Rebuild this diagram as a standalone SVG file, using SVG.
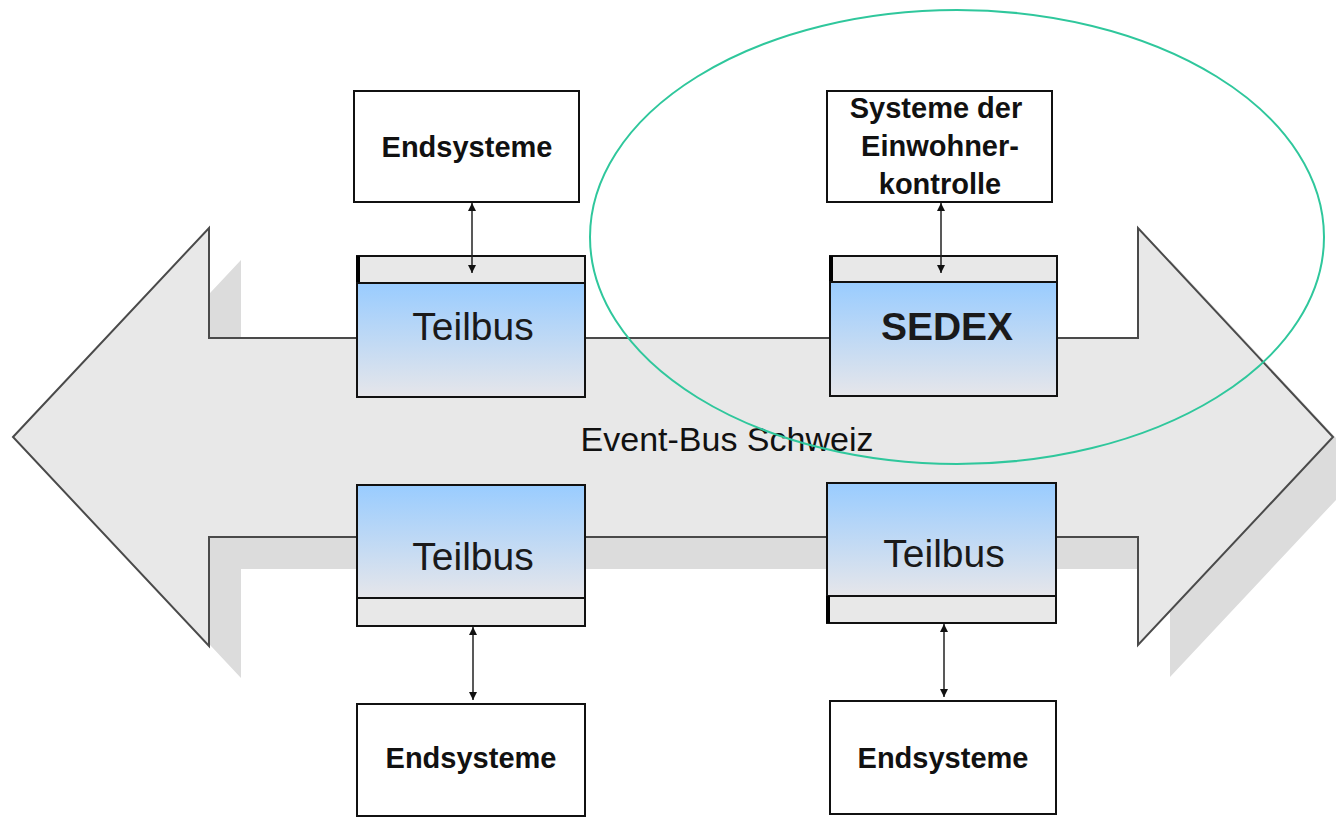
<svg xmlns="http://www.w3.org/2000/svg" width="1336" height="818" viewBox="0 0 1336 818">
<style>
.box{fill:#ffffff;stroke:#111;stroke-width:2}
.hdr{fill:#e8e8e8;stroke:#111;stroke-width:2}
.body{fill:url(#blue);stroke:#111;stroke-width:2}
.thick{fill:#000}
.lbl{font-family:"Liberation Sans",Arial,sans-serif;font-weight:bold;font-size:29px;fill:#111;text-anchor:middle}
.bus{font-family:"Liberation Sans",Arial,sans-serif;font-size:39px;fill:#1a1a1a;text-anchor:middle}
.conn{stroke:#222;stroke-width:1.5;fill:none;marker-start:url(#ah);marker-end:url(#ah)}
</style>
<defs>
<linearGradient id="blue" x1="0" y1="0" x2="0" y2="1">
<stop offset="0" stop-color="#99ccff"/>
<stop offset="1" stop-color="#e6e6ea"/>
</linearGradient>
<marker id="ah" viewBox="0 0 10 10" refX="10" refY="5" markerWidth="8" markerHeight="8" markerUnits="userSpaceOnUse" orient="auto-start-reverse">
<path d="M0,0 L10,5 L0,10 z" fill="#111"/>
</marker>
</defs>
<rect width="1336" height="818" fill="#ffffff"/>
<g id="bus">
<polygon points="45,469 241,260 241,370 1170,370 1170,260 1365,469 1170,677 1170,569 241,569 241,678" fill="#dcdcdc"/>
<polygon points="13,437 209,228 209,338 1138,338 1138,228 1333,437 1138,645 1138,537 209,537 209,646" fill="#e8e8e8" stroke="#4a4a4a" stroke-width="2" stroke-linejoin="miter"/>
<text x="727" y="451" font-family="'Liberation Sans',Arial,sans-serif" font-size="34" fill="#111" text-anchor="middle">Event-Bus Schweiz</text>
</g>
<g id="end-tl">
<rect class="box" x="354" y="91" width="225" height="111"/>
<text class="lbl" x="467" y="157">Endsysteme</text>
</g>
<g id="teilbus-tl">
<rect class="hdr" x="357" y="256" width="228" height="27"/>
<rect class="thick" x="356" y="256" width="4" height="27"/>
<rect class="body" x="357" y="283" width="228" height="114"/>
<text class="bus" x="473" y="340">Teilbus</text>
</g>
<g id="einwohner">
<rect class="box" x="827" y="91" width="225" height="111"/>
<text class="lbl" x="936" y="118">Systeme der</text>
<text class="lbl" x="940" y="156">Einwohner-</text>
<text class="lbl" x="940" y="194">kontrolle</text>
</g>
<g id="sedex">
<rect class="hdr" x="830" y="256" width="227" height="26"/>
<rect class="thick" x="829" y="256" width="4" height="26"/>
<rect class="body" x="830" y="282" width="227" height="114"/>
<text class="bus" x="947" y="340" font-weight="bold">SEDEX</text>
</g>
<g id="teilbus-bl">
<rect class="body" x="357" y="485" width="228" height="113"/>
<rect class="hdr" x="357" y="598" width="228" height="28"/>
<text class="bus" x="473" y="570">Teilbus</text>
</g>
<g id="end-bl">
<rect class="box" x="357" y="704" width="228" height="112"/>
<text class="lbl" x="471" y="768">Endsysteme</text>
</g>
<g id="teilbus-br">
<rect class="body" x="827" y="483" width="229" height="113"/>
<rect class="hdr" x="827" y="596" width="229" height="27"/>
<rect class="thick" x="826" y="596" width="4" height="27"/>
<text class="bus" x="944" y="567">Teilbus</text>
</g>
<g id="end-br">
<rect class="box" x="830" y="701" width="226" height="113"/>
<text class="lbl" x="943" y="768">Endsysteme</text>
</g>
<g id="connectors">
<line class="conn" x1="472" y1="203" x2="472" y2="273"/>
<line class="conn" x1="941" y1="203" x2="941" y2="273"/>
<line class="conn" x1="473" y1="627" x2="473" y2="700"/>
<line class="conn" x1="944" y1="624" x2="944" y2="697"/>
</g>
<g id="highlight">
<ellipse cx="957" cy="237" rx="367" ry="227" fill="none" stroke="#2fc79c" stroke-width="2"/>
</g>
</svg>
